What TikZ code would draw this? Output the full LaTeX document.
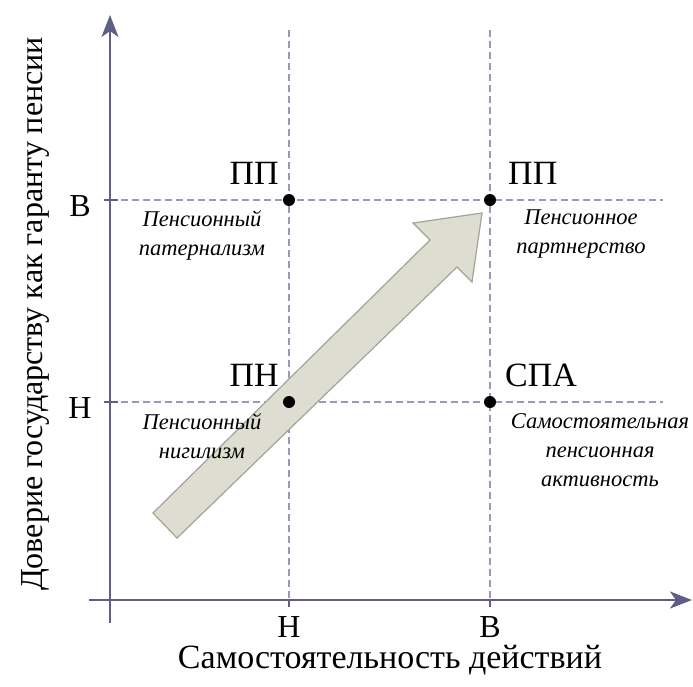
\documentclass[tikz,border=0pt]{standalone}
\usepackage{fontspec}
\setmainfont{Liberation Serif}
\usetikzlibrary{arrows.meta}
\definecolor{axiscol}{HTML}{5E5E86}
\definecolor{gridcol}{HTML}{9A9AB8}
\definecolor{arrfill}{HTML}{DDDDD1}
\definecolor{arrdraw}{HTML}{A3A396}
\tikzset{
  axisline/.style={draw=axiscol, line width=2.4pt},
  gridline/.style={draw=gridcol, line width=1.1pt, dash pattern=on 7pt off 4pt},
  dotpt/.style={circle, fill=black, inner sep=0pt, minimum size=12pt},
  biglbl/.style={font=\fontsize{34}{38}\selectfont, inner sep=0pt},
  itlbl/.style={font=\fontsize{22.5}{29}\selectfont\itshape, align=center, inner sep=0pt},
  ticklbl/.style={font=\fontsize{32}{36}\selectfont, inner sep=0pt, text depth=0pt}
}
\begin{document}
\begin{tikzpicture}[x=1pt,y=-1pt]
\useasboundingbox (0,0) rectangle (693,686);
% grid
\coordinate (gy1s) at (110,200); \coordinate (gy1e) at (663,200);
\coordinate (gy2s) at (110,402); \coordinate (gy2e) at (663,402);
\coordinate (gx1s) at (289,30); \coordinate (gx1e) at (289,600);
\coordinate (gx2s) at (490,30); \coordinate (gx2e) at (490,600);
\draw[gridline] (gy1s) -- (gy1e);
\draw[gridline] (gy2s) -- (gy2e);
\draw[gridline] (gx1s) -- (gx1e);
\draw[gridline] (gx2s) -- (gx2e);
% big arrow
\draw[fill=arrfill, draw=arrdraw, line width=1.2pt, line join=miter]
  (153,513) -- (430,240) -- (413,223) -- (482,213) -- (472,282) -- (457,267) -- (177,538) -- cycle;
% axes
\coordinate (yb) at (110,623); \coordinate (yt) at (110,15);
\coordinate (xl) at (89,600); \coordinate (xr) at (692,600);
\draw[axisline, -{Stealth[length=22pt,width=17pt,inset=6pt]}] (yb) -- (yt);
\draw[axisline, -{Stealth[length=22pt,width=17pt,inset=6pt]}] (xl) -- (xr);
% ticks
\coordinate (t1a) at (104,200); \coordinate (t1b) at (118,200);
\coordinate (t2a) at (104,402); \coordinate (t2b) at (118,402);
\coordinate (t3a) at (289,600); \coordinate (t3b) at (289,607);
\coordinate (t4a) at (490,600); \coordinate (t4b) at (490,607);
\draw[axisline, line width=2pt] (t1a) -- (t1b);
\draw[axisline, line width=2pt] (t2a) -- (t2b);
\draw[axisline, line width=2pt] (t3a) -- (t3b);
\draw[axisline, line width=2pt] (t4a) -- (t4b);
% dots
\node[dotpt] (d1) at (289,200) {};
\node[dotpt] (d2) at (490,200) {};
\node[dotpt] (d3) at (289,402) {};
\node[dotpt] (d4) at (490,402) {};
% big labels
\node[biglbl, anchor=base east] (l1) at (279,184) {ПП};
\node[biglbl, anchor=base west] (l2) at (508,184) {ПП};
\node[biglbl, anchor=base east] (l3) at (279,386) {ПН};
\node[biglbl, anchor=base west] (l4) at (505,386) {СПА};
% italic labels
\node[itlbl, anchor=north] (i1) at (202,210) {Пенсионный\\патернализм};
\node[itlbl, anchor=north] (i2) at (581,210) {Пенсионное\\партнерство};
\node[itlbl, anchor=north] (i3) at (202,413) {Пенсионный\\нигилизм};
\node[itlbl, anchor=north] (i4) at (600,413) {Самостоятельная\\пенсионная\\активность};
% tick labels
\node[ticklbl, anchor=base] (v1) at (80,216) {В};
\node[ticklbl, anchor=base] (v2) at (80,418) {Н};
\node[ticklbl, anchor=base] (h1) at (289,637) {Н};
\node[ticklbl, anchor=base] (h2) at (490,637) {В};
% axis titles
\node[font=\fontsize{34}{38}\selectfont, inner sep=0pt, anchor=base, text height=25pt] (xt) at (390,668) {Самостоятельность действий};
\node[font=\fontsize{32}{36}\selectfont, inner sep=0pt, anchor=base, rotate=90] (ytl) at (42,314) {Доверие государству как гаранту пенсии};
\end{tikzpicture}
\end{document}
